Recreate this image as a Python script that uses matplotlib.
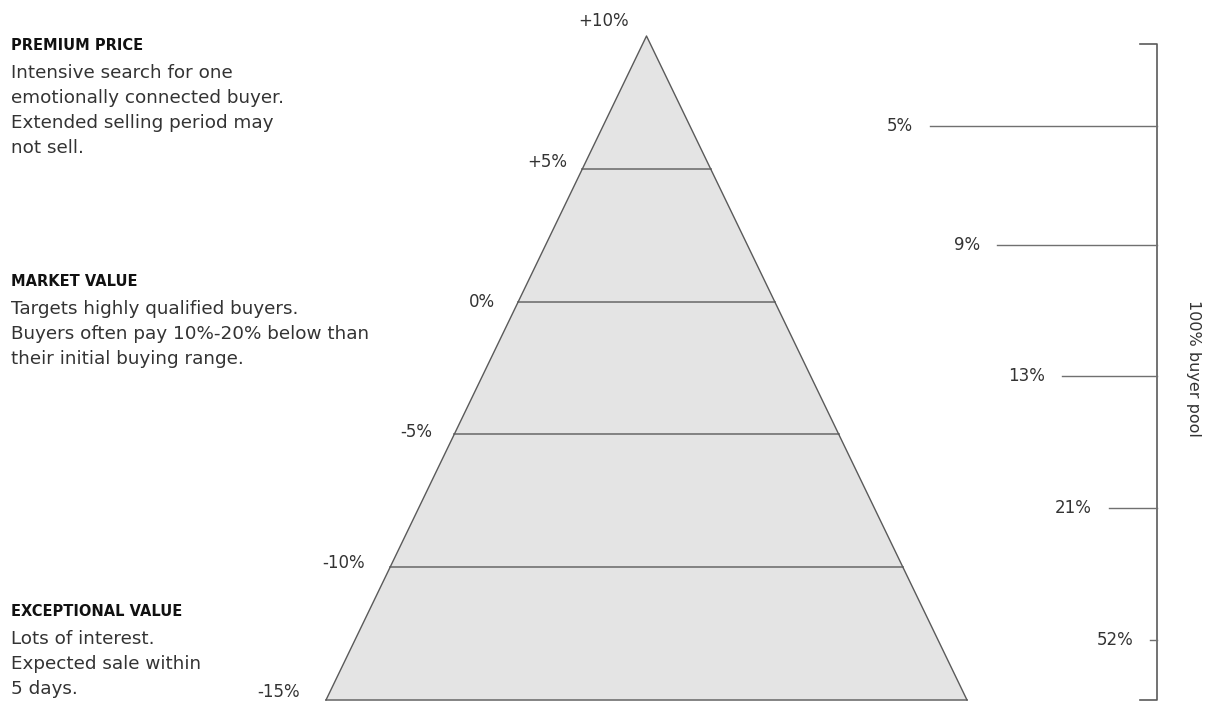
import numpy as np
import matplotlib
matplotlib.use("Agg")
import matplotlib.pyplot as plt
from matplotlib.patches import Polygon

# Price levels (band edges of the pyramid), top to bottom
price_levels = [10, 5, 0, -5, -10, -15]
price_labels = ["+10%", "+5%", "0%", "-5%", "-10%", "-15%"]

# Share of the buyer pool for each band, top to bottom
pool_share = [5, 9, 13, 21, 52]
pool_labels = ["5%", "9%", "13%", "21%", "52%"]

# Left-hand descriptions
block_titles = ["PREMIUM PRICE", "MARKET VALUE", "EXCEPTIONAL VALUE"]
block_texts = [
    ["Intensive search for one", "emotionally connected buyer.",
     "Extended selling period may", "not sell."],
    ["Targets highly qualified buyers.",
     "Buyers often pay 10%-20% below than", "their initial buying range."],
    ["Lots of interest.", "Expected sale within", "5 days."],
]

W, H = 1212, 704
fig = plt.figure(figsize=(W / 100, H / 100), dpi=100)
ax = fig.add_axes([0, 0, 1, 1])
ax.set_xlim(0, W)
ax.set_ylim(H, 0)
ax.axis("off")

# layout (pixels)
apex_x, apex_y, base_y = 646.5, 36, 700
half_base = 320.5
top, bottom = max(price_levels), min(price_levels)


def level_y(v):
    return apex_y + (top - v) / (top - bottom) * (base_y - apex_y)


def half_w(v):
    return (top - v) / (top - bottom) * half_base


fill = "#e4e4e4"
edge = "#5a5a5a"
txt = "#333333"

# pyramid bands
for hi, lo in zip(price_levels[:-1], price_levels[1:]):
    y0, y1 = level_y(hi), level_y(lo)
    pts = [(apex_x - half_w(hi), y0), (apex_x + half_w(hi), y0),
           (apex_x + half_w(lo), y1), (apex_x - half_w(lo), y1)]
    ax.add_patch(Polygon(pts, closed=True, facecolor=fill, edgecolor="none"))
    ax.plot([apex_x - half_w(lo), apex_x + half_w(lo)], [y1, y1],
            color="#707070", lw=1.2)

# outline sides
ax.plot([apex_x - half_base, apex_x, apex_x + half_base],
        [base_y, apex_y, base_y], color=edge, lw=1.0)

# price labels left of the pyramid edge
lab_dx = [-18, -15, -23, -22, -25, -26]
lab_dy = [-15, -7, 0, -2, -4, -8]
for v, s, dx, dy in zip(price_levels, price_labels, lab_dx, lab_dy):
    ax.text(apex_x - half_w(v) + dx, level_y(v) + dy, s, ha="right",
            va="center", fontsize=12, color=txt)

# buyer pool bracket on the right
bx = 1157
bracket_top, bracket_bot = 44, 700
ax.plot([bx - 17, bx, bx, bx - 17],
        [bracket_top, bracket_top, bracket_bot, bracket_bot],
        color=edge, lw=1.2)
pool_y = [126, 245, 376, 508, 640]
pool_line_x0 = [930, 997, 1062, 1109, 1150]
for s, y, x0 in zip(pool_labels, pool_y, pool_line_x0):
    ax.plot([x0, bx], [y, y], color="#707070", lw=1.0)
    ax.text(x0 - 17, y, s, ha="right", va="center", fontsize=12, color=txt)

ax.text(1193, 368, "100% buyer pool", rotation=-90, ha="center",
        va="center", fontsize=11.5, color=txt)

# left descriptions
title_base = [50, 286, 616]
for title, lines, yb in zip(block_titles, block_texts, title_base):
    ax.text(11, yb, title, ha="left", va="baseline", fontsize=10.5,
            fontweight="bold", color="#111111")
    for i, line in enumerate(lines):
        ax.text(11, yb + 28 + 25 * i, line, ha="left", va="baseline",
                fontsize=13.2, color=txt)

fig.savefig("out.png", dpi=100, facecolor="white")
